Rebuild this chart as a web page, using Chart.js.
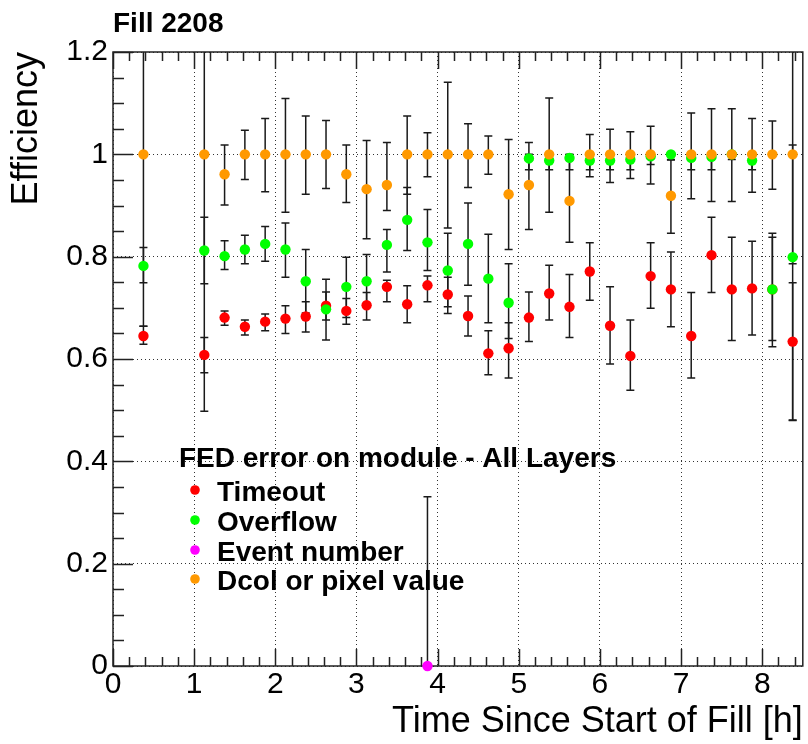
<!DOCTYPE html>
<html>
<head>
<meta charset="utf-8">
<script src="https://cdn.jsdelivr.net/npm/chart.js@4.4.1/dist/chart.umd.min.js"></script>
<style>
  html, body { margin: 0; padding: 0; background: #fff; }
  #wrap { width: 808px; height: 744px; }
</style>
</head>
<body>
<div id="wrap"><canvas id="eff" width="808" height="744"></canvas></div>
<script>
const FONT = '"Liberation Sans", Arial, Helvetica, sans-serif';

// texts
const fillTitle = 'Fill 2208';
const legendTitle = 'FED error on module - All Layers';
const xTitle = 'Time Since Start of Fill [h]';
const yTitle = 'Efficiency';

// axes
const xTickVals = [0, 1, 2, 3, 4, 5, 6, 7, 8];
const yTickVals = [0, 0.2, 0.4, 0.6, 0.8, 1.0, 1.2];
const yTickLabels = ['0', '0.2', '0.4', '0.6', '0.8', '1', '1.2'];

// bin centres [h]
const hours = [0.375, 1.125, 1.375, 1.625, 1.875, 2.125, 2.375, 2.625, 2.875, 3.125,
  3.375, 3.625, 3.875, 4.125, 4.375, 4.625, 4.875, 5.125, 5.375, 5.625,
  5.875, 6.125, 6.375, 6.625, 6.875, 7.125, 7.375, 7.625, 7.875, 8.125, 8.375];

// Timeout
const timeoutVal = [0.645, 0.608, 0.681, 0.663, 0.673, 0.679, 0.683, 0.704, 0.694, 0.705,
  0.741, 0.707, 0.744, 0.726, 0.684, 0.611, 0.621, 0.681, 0.728, 0.702,
  0.771, 0.665, 0.606, 0.762, 0.736, 0.645, 0.803, 0.736, 0.738, 0.736, 0.634];
const timeoutLo = [0.629, 0.573, 0.666, 0.647, 0.655, 0.650, 0.653, 0.676, 0.668, 0.676,
  0.712, 0.671, 0.712, 0.689, 0.645, 0.569, 0.563, 0.634, 0.676, 0.642,
  0.715, 0.590, 0.539, 0.699, 0.663, 0.563, 0.730, 0.636, 0.647, 0.636, 0.481];
const timeoutHi = [0.664, 0.642, 0.694, 0.676, 0.688, 0.704, 0.712, 0.731, 0.718, 0.730,
  0.754, 0.743, 0.762, 0.760, 0.723, 0.655, 0.671, 0.731, 0.783, 0.765,
  0.827, 0.741, 0.676, 0.827, 0.809, 0.730, 0.877, 0.838, 0.830, 0.838, 0.749];

// Overflow
const overflowVal = [0.782, 0.812, 0.801, 0.814, 0.825, 0.814, 0.752, 0.697, 0.741, 0.752,
  0.823, 0.872, 0.828, 0.773, 0.825, 0.757, 0.710, 0.992, 0.988, 0.993,
  0.988, 0.988, 0.990, 0.996, 1.000, 0.993, 0.995, 1.000, 0.988, 0.736, 0.799];
const overflowLo = [0.749, 0.747, 0.775, 0.786, 0.791, 0.760, 0.690, 0.637, 0.681, 0.704,
  0.770, 0.812, 0.773, 0.702, 0.744, 0.671, 0.640, 0.970, 0.970, 0.970,
  0.970, 0.970, 0.970, 0.980, 0.990, 0.970, 0.970, 0.990, 0.970, 0.624, 0.786];
const overflowHi = [0.818, 0.877, 0.831, 0.842, 0.859, 0.866, 0.814, 0.756, 0.799, 0.804,
  0.853, 0.935, 0.892, 0.846, 0.905, 0.844, 0.786, 1.000, 1.000, 1.000,
  1.000, 1.000, 1.000, 1.000, 1.000, 1.000, 1.000, 1.000, 1.000, 0.846, 1.018];

// Event number
const eventHours = [3.875];
const eventVal = [0.0];
const eventLo = [0.0];
const eventHi = [0.331];

// Dcol or pixel value
const dcolVal = [1.000, 1.000, 0.961, 1.000, 1.000, 1.000, 1.000, 1.000, 0.961, 0.932,
  0.940, 1.000, 1.000, 1.000, 1.000, 1.000, 0.922, 0.940, 1.000, 0.909,
  1.000, 1.000, 1.000, 1.000, 0.919, 1.000, 1.000, 1.000, 1.000, 1.000, 1.000];
const dcolLo = [0.664, 0.498, 0.901, 0.951, 0.927, 0.887, 0.922, 0.933, 0.906, 0.835,
  0.890, 0.922, 0.956, 0.856, 0.935, 0.961, 0.814, 0.853, 0.887, 0.828,
  0.956, 0.945, 0.953, 0.942, 0.846, 0.913, 0.908, 0.908, 0.926, 0.932, 0.480];
const dcolHi = [1.250, 1.250, 1.018, 1.047, 1.070, 1.109, 1.075, 1.066, 1.018, 1.027,
  1.023, 1.075, 1.042, 1.141, 1.060, 1.036, 1.029, 1.023, 1.110, 0.990,
  1.039, 1.049, 1.044, 1.055, 0.989, 1.081, 1.089, 1.089, 1.070, 1.065, 1.250];

const series = [
  { label: 'Timeout', color: '#ff0000', xs: hours, val: timeoutVal, lo: timeoutLo, hi: timeoutHi, order: 4 },
  { label: 'Overflow', color: '#00ff00', xs: hours, val: overflowVal, lo: overflowLo, hi: overflowHi, order: 3 },
  { label: 'Event number', color: '#ff00ff', xs: eventHours, val: eventVal, lo: eventLo, hi: eventHi, order: 2 },
  { label: 'Dcol or pixel value', color: '#ff9900', xs: hours, val: dcolVal, lo: dcolLo, hi: dcolHi, order: 1 },
];

const datasets = series.map(s => ({
  label: s.label,
  data: s.xs.map((h, i) => ({ x: h, y: s.val[i] })),
  errLo: s.lo,
  errHi: s.hi,
  order: s.order,
  backgroundColor: s.color,
  borderColor: s.color,
  borderWidth: 0,
  pointRadius: 5.2,
  pointHoverRadius: 5.2,
  showLine: false,
  clip: false,
}));

// error bars, drawn under the markers
const errorBars = {
  id: 'errorBars',
  beforeDatasetsDraw(chart) {
    const { ctx, chartArea: a, scales: { x, y } } = chart;
    ctx.save();
    ctx.strokeStyle = '#1a1a1a';
    ctx.lineWidth = 1.5;
    chart.data.datasets.forEach(ds => {
      ds.data.forEach((p, i) => {
        if (p.y == null) return;
        const px = x.getPixelForValue(p.x);
        const yHi = y.getPixelForValue(ds.errHi[i]);
        const yLo = y.getPixelForValue(ds.errLo[i]);
        const top = Math.max(yHi, a.top), bot = Math.min(yLo, a.bottom);
        ctx.beginPath();
        ctx.moveTo(px, top); ctx.lineTo(px, bot);
        if (yHi >= a.top) { ctx.moveTo(px - 4, yHi); ctx.lineTo(px + 4, yHi); }
        if (yLo <= a.bottom) { ctx.moveTo(px - 4, yLo); ctx.lineTo(px + 4, yLo); }
        ctx.stroke();
      });
    });
    ctx.restore();
  }
};

// ROOT-like frame with inner ticks
const frameTicks = {
  id: 'frameTicks',
  beforeDatasetsDraw(chart) {
    const { ctx, chartArea: a, scales: { x, y } } = chart;
    ctx.save();
    ctx.strokeStyle = '#222';
    ctx.lineWidth = 1.5;
    ctx.beginPath();
    for (let k = 0; k * 0.2 <= 8.5 + 1e-9; k++) {
      const px = Math.round(x.getPixelForValue(k * 0.2)) + 0.5;
      const len = k % 5 === 0 ? 17 : 9;
      ctx.moveTo(px, a.bottom); ctx.lineTo(px, a.bottom - len);
      ctx.moveTo(px, a.top); ctx.lineTo(px, a.top + len);
    }
    for (let k = 0; k <= 24; k++) {
      const py = Math.round(y.getPixelForValue(k * 0.05)) + 0.5;
      const len = k % 4 === 0 ? 20 : 11;
      ctx.moveTo(a.left, py); ctx.lineTo(a.left + len, py);
    }
    ctx.stroke();
    ctx.strokeRect(a.left, a.top, a.right - a.left, a.bottom - a.top);
    ctx.restore();
  }
};

// title + legend box inside the frame
const textBits = {
  id: 'textBits',
  afterDraw(chart) {
    const { ctx } = chart;
    ctx.save();
    ctx.fillStyle = '#000';
    ctx.textBaseline = 'alphabetic';
    ctx.font = 'bold 28px ' + FONT;
    ctx.fillText(fillTitle, 113, 32);
    ctx.fillText(legendTitle, 179, 467);
    const rows = [501, 531, 561, 590];
    series.forEach((s, i) => {
      ctx.fillStyle = s.color;
      ctx.beginPath();
      ctx.arc(195, rows[i] - 11, 4.8, 0, Math.PI * 2);
      ctx.fill();
      ctx.fillStyle = '#000';
      ctx.fillText(s.label, 217, rows[i]);
    });
    ctx.restore();
  }
};

new Chart(document.getElementById('eff'), {
  type: 'scatter',
  data: { datasets },
  plugins: [errorBars, frameTicks, textBits],
  options: {
    responsive: false,
    animation: false,
    events: [],
    layout: { padding: { top: 52, right: 3, left: 0, bottom: 0 } },
    plugins: { legend: { display: false }, tooltip: { enabled: false }, title: { display: false } },
    scales: {
      x: {
        type: 'linear',
        min: 0, max: 8.5,
        afterBuildTicks: s => { s.ticks = xTickVals.map(v => ({ value: v })); },
        afterFit: s => { s.height = 78; },
        ticks: { color: '#000', font: { family: FONT, size: 30 }, padding: 1, maxRotation: 0,
                 callback: v => String(v) },
        grid: { color: '#333', lineWidth: 1, drawTicks: false },
        border: { display: false, dash: [1, 3] },
        title: { display: true, text: xTitle, align: 'end', color: '#000',
                 font: { family: FONT, size: 36 }, padding: { top: 0, bottom: 0 } },
      },
      y: {
        type: 'linear',
        min: 0, max: 1.2,
        afterBuildTicks: s => { s.ticks = yTickVals.map(v => ({ value: v })); },
        afterFit: s => { s.width = 113; },
        ticks: { color: '#000', font: { family: FONT, size: 30 }, padding: 5,
                 callback: (v, i) => yTickLabels[i] },
        grid: { color: '#333', lineWidth: 1, drawTicks: false },
        border: { display: false, dash: [1, 3] },
        title: { display: true, text: yTitle, align: 'end', color: '#000',
                 font: { family: FONT, size: 36, lineHeight: 1 }, padding: { top: 9, bottom: 0 } },
      }
    }
  }
});
</script>
</body>
</html>
